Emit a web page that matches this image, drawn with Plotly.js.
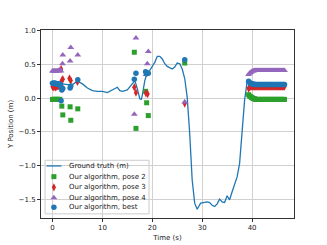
<!DOCTYPE html>
<html>
<head>
<meta charset="utf-8">
<script src="https://cdn.plot.ly/plotly-3.0.1.min.js"></script>
<style>
  html, body { margin: 0; padding: 0; background: #fff; }
  #grafico { width: 327px; height: 245px; }
</style>
</head>
<body>
<div id="grafico"></div>
<script>
// Ground truth trajectory (Y position over time)
var tTruth = [0, 1, 2, 3, 4, 5, 6, 7, 8, 9, 10, 11, 12, 13, 13.5, 14, 15, 15.5, 16, 16.5,
    17, 17.5, 17.8, 18, 18.5, 19, 19.5, 20, 20.5, 21, 21.5, 22, 22.5, 23, 24, 24.5, 25,
    25.5, 26, 26.5, 27, 27.5, 28, 28.5, 29, 29.3, 29.7, 31, 31.5, 32, 32.5, 33, 33.5, 34,
    34.5, 35, 35.5, 36, 37, 37.5, 38, 38.5, 39, 39.4];
var yTruth = [0.22, 0.22, 0.21, 0.2, 0.2, 0.25, 0.21, 0.15, 0.11, 0.1, 0.1, 0.08, 0.12, 0.16, 0.11,
    0.1, 0.12, 0.17, 0.21, 0.26, 0.14, -0.01, -0.02, 0.04, 0.26, 0.38, 0.41, 0.47, 0.53, 0.62,
    0.62, 0.58, 0.51, 0.47, 0.43, 0.46, 0.52, 0.51, 0.43, 0.29, 0.01, -0.53, -1.22, -1.56,
    -1.65, -1.61, -1.56, -1.54, -1.55, -1.59, -1.61, -1.57, -1.5, -1.54, -1.55, -1.45, -1.51,
    -1.39, -1.17, -0.97, -0.53, -0.03, 0.24, 0.26];

// Estimates at the very start
var tStart = [0, 0.15, 0.3, 0.45, 0.6, 0.75, 0.9, 1.05, 1.2, 1.35, 1.5];
var yStart2 = [-0.02, -0.02, -0.02, -0.02, -0.02, -0.02, -0.02, -0.02, -0.02, -0.02, -0.02];
var yStart3 = [0.17, 0.16, 0.17, 0.17, 0.16, 0.17, 0.17, 0.18, 0.18, 0.19, 0.19];
var yStart4 = [0.4, 0.4, 0.4, 0.4, 0.4, 0.4, 0.4, 0.4, 0.41, 0.41, 0.42];
var yStartB = [0.22, 0.22, 0.22, 0.22, 0.22, 0.21, 0.21, 0.21, 0.21, 0.21, 0.2];

// Sparse estimates
var tPose2 = [1.87, 2.07, 3.53, 3.67, 5.07, 16.4, 16.73, 18.67, 18.87, 19.2, 26.5];
var yPose2 = [-0.12, -0.25, -0.13, -0.33, -0.16, 0.68, -0.45, 0.1, -0.07, -0.26, 0.52];

var tPose3 = [1.73, 1.87, 2.07, 2.07, 3.4, 3.67, 5.0, 16.4, 16.73, 18.73, 19.07, 26.5];
var yPose3 = [0.43, 0.26, 0.14, 0.28, 0.29, 0.26, 0.24, 0.16, 0.08, 0.07, 0.06, -0.08];

var tPose4 = [1.7, 2.0, 2.07, 3.53, 3.67, 5.07, 16.4, 16.73, 18.73, 19.0, 19.2, 26.5];
var yPose4 = [0.4, 0.51, 0.64, 0.55, 0.75, 0.64, -0.24, 0.89, 0.35, 0.51, 0.69, -0.06];

var tBest = [1.6, 1.73, 1.87, 2.07, 1.73, 3.53, 3.67, 5.07, 16.4, 16.73, 18.67, 18.87, 19.2, 26.5];
var yBest = [0.2, 0.16, 0.12, 0.14, -0.04, 0.15, 0.18, 0.27, 0.28, 0.37, 0.39, 0.36, 0.37, 0.57];

// Dense estimates at the end
var tEnd = [39.3, 39.5, 39.7, 39.9, 40.1, 40.3, 40.5, 40.7, 40.9, 41.1, 41.3, 41.5, 41.7,
    41.9, 42.1, 42.3, 42.5, 42.7, 42.9, 43.1, 43.3, 43.5, 43.7, 43.9, 44.1, 44.3, 44.5,
    44.7, 44.9, 45.1, 45.3, 45.5, 45.7, 45.9, 46.1, 46.3, 46.5];
var yEnd2 = [0.05, 0.03, 0.02, 0.01, 0.0, -0.01, -0.01, -0.02, -0.02, -0.02, -0.02, -0.02,
    -0.02, -0.02, -0.02, -0.02, -0.02, -0.02, -0.02, -0.02, -0.02, -0.02, -0.02, -0.02,
    -0.02, -0.02, -0.02, -0.02, -0.02, -0.02, -0.02, -0.02, -0.02, -0.02, -0.02, -0.02, -0.02];
var yEnd3 = [0.14, 0.16, 0.17, 0.17, 0.17, 0.17, 0.17, 0.17, 0.17, 0.17, 0.17, 0.17, 0.17,
    0.17, 0.17, 0.17, 0.17, 0.17, 0.17, 0.17, 0.17, 0.17, 0.17, 0.17, 0.17, 0.17, 0.17,
    0.17, 0.17, 0.17, 0.17, 0.17, 0.17, 0.17, 0.17, 0.17, 0.17];
var yEnd4 = [0.35, 0.37, 0.38, 0.39, 0.4, 0.4, 0.41, 0.41, 0.41, 0.41, 0.41, 0.41, 0.41,
    0.41, 0.41, 0.41, 0.41, 0.41, 0.41, 0.41, 0.41, 0.41, 0.41, 0.41, 0.41, 0.41, 0.41,
    0.41, 0.41, 0.41, 0.41, 0.41, 0.41, 0.41, 0.41, 0.41, 0.41];
var yEndB = [0.25, 0.23, 0.22, 0.21, 0.21, 0.21, 0.2, 0.2, 0.2, 0.2, 0.2, 0.2, 0.2, 0.2,
    0.2, 0.2, 0.2, 0.2, 0.2, 0.2, 0.2, 0.2, 0.2, 0.2, 0.2, 0.2, 0.2, 0.2, 0.2, 0.2, 0.2,
    0.2, 0.2, 0.2, 0.2, 0.2, 0.2];

var xTicks = [0, 10, 20, 30, 40];
var yTicks = [-1.5, -1.0, -0.5, 0.0, 0.5, 1.0];

var nomi = ['Ground truth (m)', 'Our algorithm, pose 2', 'Our algorithm, pose 3',
    'Our algorithm, pose 4', 'Our algorithm, best'];
var colori = ['#1f77b4', '#2ca02c', '#d62728', '#9467bd', '#1f77b4'];
var simboli = [null, 'square', 'diamond-tall', 'triangle-up', 'circle'];
var dimensioni = [0, 5, 6, 6, 5.5];

function punti(i, xs, ys) {
    return {
        type: 'scatter', mode: 'markers', name: nomi[i], showlegend: false,
        x: xs, y: ys,
        marker: { symbol: simboli[i], color: colori[i], size: dimensioni[i], line: { width: 0 } }
    };
}

var dati = [
    {
        type: 'scatter', mode: 'lines', name: nomi[0], showlegend: false,
        x: tTruth, y: yTruth,
        line: { color: colori[0], width: 1.3 }
    },
    punti(1, tStart.concat(tPose2, tEnd), yStart2.concat(yPose2, yEnd2)),
    punti(2, tStart.concat(tPose3, tEnd), yStart3.concat(yPose3, yEnd3)),
    punti(3, tStart.concat(tPose4, tEnd), yStart4.concat(yPose4, yEnd4)),
    punti(4, tStart.concat(tBest, tEnd), yStartB.concat(yBest, yEndB))
];

// Compact legend (matplotlib style), drawn in the plot-area fraction space
var legX0 = 0.016, legX1 = 0.427, legY0 = 0.022, legY1 = 0.307;
var righe = [0.277, 0.220, 0.163, 0.108, 0.057];
var forme = [{
    type: 'rect', xref: 'paper', yref: 'paper', layer: 'between',
    x0: legX0, x1: legX1, y0: legY0, y1: legY1,
    fillcolor: 'rgba(255,255,255,0.85)', line: { color: '#cccccc', width: 1 }
}, {
    type: 'line', xref: 'paper', yref: 'paper', layer: 'above',
    x0: 0.022, x1: 0.081, y0: righe[0], y1: righe[0],
    line: { color: colori[0], width: 1.3 }
}];
var note = nomi.map(function (n, i) {
    return {
        xref: 'paper', yref: 'paper', x: 0.103, y: righe[i], xanchor: 'left', yanchor: 'middle',
        text: n, showarrow: false, font: { size: 7, color: '#222' }
    };
});
for (var i = 1; i < 5; i++) {
    dati.push({
        type: 'scatter', mode: 'markers', xaxis: 'x2', yaxis: 'y2', showlegend: false,
        x: [0.051], y: [righe[i]],
        marker: { symbol: simboli[i], color: colori[i], size: dimensioni[i], line: { width: 0 } }
    });
}

var asse = {
    showgrid: true, gridcolor: '#d0d0d0', gridwidth: 1,
    zeroline: false, showline: true, linecolor: '#333', linewidth: 1, mirror: true,
    ticks: 'outside', ticklen: 3, tickcolor: '#333',
    tickfont: { size: 7, color: '#222' }
};

var layout = {
    width: 327, height: 245,
    margin: { l: 41, r: 33, t: 30, b: 27 },
    paper_bgcolor: '#fff', plot_bgcolor: '#fff',
    font: { family: 'DejaVu Sans, sans-serif', size: 7, color: '#222' },
    showlegend: false,
    shapes: forme,
    annotations: note,
    xaxis: Object.assign({}, asse, {
        range: [-2.3, 48.4], tickvals: xTicks,
        title: { text: 'Time (s)', font: { size: 7 }, standoff: 3 }
    }),
    yaxis: Object.assign({}, asse, {
        range: [-1.78, 1.01], tickvals: yTicks, tickformat: '.1f',
        title: { text: 'Y Position (m)', font: { size: 7 }, standoff: 4 }
    }),
    xaxis2: { overlaying: 'x', range: [0, 1], visible: false, fixedrange: true },
    yaxis2: { overlaying: 'y', range: [0, 1], visible: false, fixedrange: true }
};

Plotly.newPlot('grafico', dati, layout, { displayModeBar: false, staticPlot: true });
</script>
</body>
</html>
